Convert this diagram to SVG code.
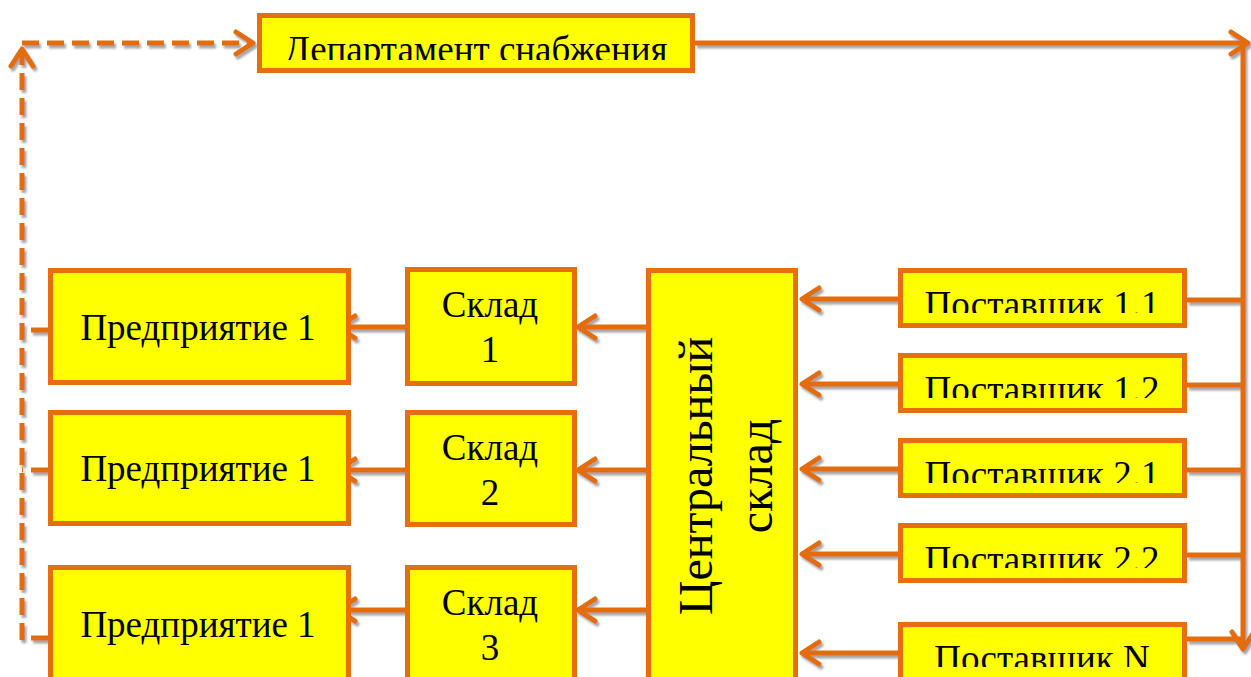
<svg xmlns="http://www.w3.org/2000/svg" width="1251" height="677" viewBox="0 0 1251 677">
<style>
.box{fill:#FFFF00;stroke:#E66E0C;stroke-width:5}
.t{font-family:"Liberation Serif","Times New Roman",serif;font-size:37px;fill:#000;text-anchor:middle}
.tc{font-family:"Liberation Serif","Times New Roman",serif;font-size:48px;fill:#000;text-anchor:middle}
.ln{fill:none;stroke:#E36C0A;stroke-width:5}
.ar{marker-end:url(#ah)}
.ds{stroke-dasharray:17 8}
</style>
<defs>
<marker id="ah" markerUnits="userSpaceOnUse" markerWidth="40" markerHeight="40" viewBox="-25 -20 30 40" refX="0" refY="0" orient="auto" overflow="visible">
<path d="M-17,-11 L0,0 L-17,11" fill="none" stroke="#E36C0A" stroke-width="5" stroke-linecap="round" stroke-linejoin="round"/>
</marker>
<filter id="sh" filterUnits="userSpaceOnUse" x="0" y="0" width="1251" height="677">
<feDropShadow dx="2" dy="3" stdDeviation="1.2" flood-color="#7F7F7F" flood-opacity="0.7"/>
</filter>
<clipPath id="c0"><rect x="262" y="18" width="428" height="42"/></clipPath>
<clipPath id="c1"><rect x="903" y="273" width="279" height="40"/></clipPath>
<clipPath id="c2"><rect x="903" y="358" width="279" height="40"/></clipPath>
<clipPath id="c3"><rect x="903" y="443" width="279" height="40"/></clipPath>
<clipPath id="c4"><rect x="903" y="528" width="279" height="40"/></clipPath>
<clipPath id="c5"><rect x="903" y="627" width="279" height="40"/></clipPath>
</defs>

<g id="connectors" filter="url(#sh)">
<path class="ln ds" d="M48,330 H22"/>
<path class="ln ds" d="M48,470 H22"/>
<path class="ln ds" d="M48,638 H22"/>
<line class="ln ds ar" x1="22" y1="640" x2="22" y2="49"/>
<path class="ln ds ar" d="M22,43 H253"/>
<path class="ln ar" d="M695,43 H1248"/>
<path class="ln ar" d="M1243,46 V649"/>
<path class="ln" d="M1187,300 H1243"/>
<path class="ln" d="M1187,385 H1243"/>
<path class="ln" d="M1187,470 H1243"/>
<path class="ln" d="M1187,555 H1243"/>
<path class="ln" d="M1187,639 H1243"/>
<path class="ln ar" d="M898,299 H802"/>
<path class="ln ar" d="M898,384 H802"/>
<path class="ln ar" d="M898,469 H802"/>
<path class="ln ar" d="M898,554 H802"/>
<path class="ln ar" d="M898,653 H802"/>
<path class="ln ar" d="M646,327 H578"/>
<path class="ln ar" d="M646,470 H578"/>
<path class="ln ar" d="M646,610 H578"/>
<path class="ln ar" d="M405,327 H338"/>
<path class="ln ar" d="M405,470 H338"/>
<path class="ln ar" d="M405,610 H338"/>
</g>

<g id="dept">
<rect class="box" x="259.5" y="15.5" width="433" height="55"/>
<text class="t" x="476" y="62" clip-path="url(#c0)">Департамент снабжения</text>
</g>

<g id="ent1">
<rect class="box" x="50.5" y="270.5" width="298" height="112"/>
<text class="t" x="198" y="340">Предприятие 1</text>
</g>
<g id="ent2">
<rect class="box" x="50.5" y="412.5" width="298" height="111"/>
<text class="t" x="198" y="481">Предприятие 1</text>
</g>
<g id="ent3">
<rect class="box" x="50.5" y="567.5" width="298" height="120"/>
<text class="t" x="198" y="637">Предприятие 1</text>
</g>

<g id="wh1">
<rect class="box" x="407.5" y="269.5" width="167" height="114"/>
<text class="t" x="490" y="317">Склад</text>
<text class="t" x="490" y="362">1</text>
</g>
<g id="wh2">
<rect class="box" x="407.5" y="412.5" width="167" height="112"/>
<text class="t" x="490" y="460">Склад</text>
<text class="t" x="490" y="505">2</text>
</g>
<g id="wh3">
<rect class="box" x="407.5" y="567.5" width="167" height="120"/>
<text class="t" x="490" y="615">Склад</text>
<text class="t" x="490" y="660">3</text>
</g>

<g id="central">
<rect class="box" x="648.5" y="270.5" width="147" height="420"/>
<text class="tc" transform="translate(712,476) rotate(-90)">Центральный</text>
<text class="tc" transform="translate(772,476) rotate(-90)">склад</text>
</g>

<g id="sup11">
<rect class="box" x="900.5" y="270.5" width="284" height="55"/>
<text class="t" x="1042" y="317" clip-path="url(#c1)">Поставщик 1.1</text>
</g>
<g id="sup12">
<rect class="box" x="900.5" y="355.5" width="284" height="55"/>
<text class="t" x="1042" y="402" clip-path="url(#c2)">Поставщик 1.2</text>
</g>
<g id="sup21">
<rect class="box" x="900.5" y="440.5" width="284" height="55"/>
<text class="t" x="1042" y="487" clip-path="url(#c3)">Поставщик 2.1</text>
</g>
<g id="sup22">
<rect class="box" x="900.5" y="525.5" width="284" height="55"/>
<text class="t" x="1042" y="572" clip-path="url(#c4)">Поставщик 2.2</text>
</g>
<g id="supN">
<rect class="box" x="900.5" y="624.5" width="284" height="60"/>
<text class="t" x="1042" y="671" clip-path="url(#c5)">Поставщик N</text>
</g>
</svg>
